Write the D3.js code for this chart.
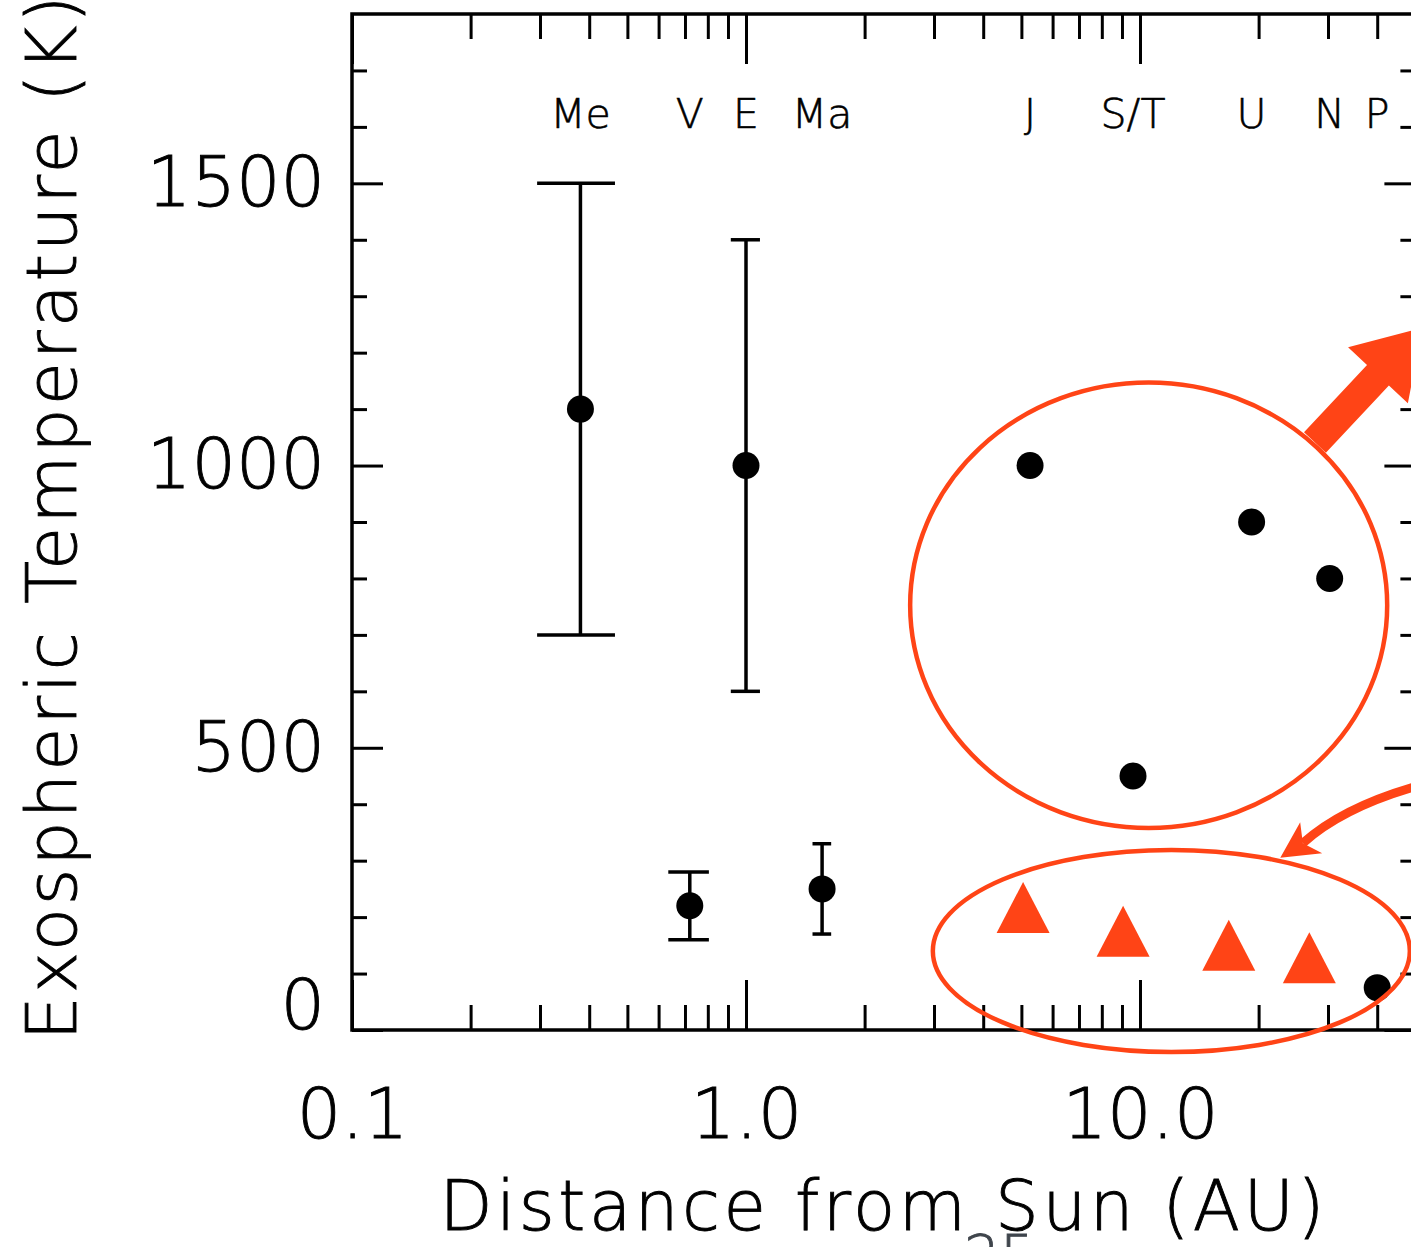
<!DOCTYPE html>
<html lang="en">
<head>
    <meta charset="UTF-8">
    <title>Exospheric Temperature vs Distance from Sun</title>
    <script src="https://cdnjs.cloudflare.com/ajax/libs/d3/7.8.2/d3.min.js"></script>
    <style>
        body {
            margin: 0;
            background: #fff;
        }
        svg {
            display: block;
            font-family: "DejaVu Sans", sans-serif;
            font-weight: 200;
        }
        svg text {
            stroke: currentColor;
            stroke-width: 0.9px;
        }
    </style>
</head>
<body>
    <div id="chart"></div>

    <script>
        // planets (black dots)
        const planetLabels = ["Me", "V", "E", "Ma", "J", "S/T", "U", "N", "P"];
        const distance = [0.38, 0.72, 1.0, 1.56, 5.26, 9.6, 19.2, 30.3, 40.0];
        const exoTemp = [1100, 220, 1000, 250, 1000, 450, 900, 800, 75];
        const tempLow = [700, 160, 600, 170, null, null, null, null, null];
        const tempHigh = [1500, 280, 1400, 330, null, null, null, null, null];

        // red triangles
        const triDistance = [5.05, 9.06, 16.8, 26.9];
        const triTemp = [202, 160, 135, 113];

        // ticks
        const xMajor = [0.1, 1, 10];
        const xTickLabels = ["0.1", "1.0", "10.0"];
        const xMinor = [0.2, 0.3, 0.4, 0.5, 0.6, 0.7, 0.8, 0.9, 2, 3, 4, 5, 6, 7, 8, 9, 20, 30, 40];
        const yMajor = [0, 500, 1000, 1500];
        const yMinor = [100, 200, 300, 400, 600, 700, 800, 900, 1100, 1200, 1300, 1400, 1600, 1700];

        // annotations, in data units
        const ellipseBoxes = [
            { x0: 2.61, x1: 42.4, y0: 358, y1: 1147 },
            { x0: 2.98, x1: 48.4, y0: -39, y1: 319 }
        ];
        const bigArrow = { from: [27.8, 1041], to: [52.1, 1244] };
        const curveArrow = {
            start: [52.9, 436], control: [33.1, 398], notch: [25.9, 331],
            tip: [22.7, 305], barb1: [25.5, 368], barb2: [29.0, 313]
        };

        const width = 1411;
        const height = 1247;
        const red = "#FF4416";

        const svg = d3.select("#chart")
            .append("svg")
            .attr("width", width)
            .attr("height", height)
            .style("color", "#000");

        const x = d3.scaleLog().domain([0.1, 50]).range([352, 352 + 394 * Math.log10(500)]);
        const y = d3.scaleLinear().domain([0, 1800]).range([1030, 14]);

        // axes
        function styleAxis(g, size) {
            g.select(".domain").remove();
            g.selectAll("line").attr("stroke", "#000").attr("stroke-width", 3);
            g.attr("font-family", "DejaVu Sans, sans-serif").attr("font-size", size || 10);
            g.selectAll("text").attr("fill", "#000");
        }

        svg.append("g")
            .attr("transform", `translate(0,${y(0)})`)
            .call(d3.axisBottom(x).tickValues(xMajor).tickSize(-50).tickSizeOuter(0)
                .tickPadding(58).tickFormat((d, i) => xTickLabels[i]))
            .call(styleAxis, 70);
        svg.append("g")
            .attr("transform", `translate(0,${y(0)})`)
            .call(d3.axisBottom(x).tickValues(xMinor).tickSize(-25).tickSizeOuter(0).tickFormat(""))
            .call(styleAxis);
        svg.append("g")
            .attr("transform", `translate(0,${y(1800)})`)
            .call(d3.axisTop(x).tickValues(xMajor).tickSize(-50).tickSizeOuter(0).tickFormat(""))
            .call(styleAxis);
        svg.append("g")
            .attr("transform", `translate(0,${y(1800)})`)
            .call(d3.axisTop(x).tickValues(xMinor).tickSize(-25).tickSizeOuter(0).tickFormat(""))
            .call(styleAxis);

        const yAxisG = svg.append("g")
            .attr("transform", `translate(${x(0.1)},0)`)
            .call(d3.axisLeft(y).tickValues(yMajor).tickSize(-31).tickSizeOuter(0)
                .tickPadding(27).tickFormat(d3.format("d")))
            .call(styleAxis, 70);
        // the zero label sits a bit above its tick
        yAxisG.selectAll(".tick text").filter(d => d === 0).attr("y", -24);

        svg.append("g")
            .attr("transform", `translate(${x(0.1)},0)`)
            .call(d3.axisLeft(y).tickValues(yMinor).tickSize(-15).tickSizeOuter(0).tickFormat(""))
            .call(styleAxis);
        svg.append("g")
            .attr("transform", `translate(${x(50)},0)`)
            .call(d3.axisRight(y).tickValues(yMajor).tickSize(-31).tickSizeOuter(0).tickFormat(""))
            .call(styleAxis);
        svg.append("g")
            .attr("transform", `translate(${x(50)},0)`)
            .call(d3.axisRight(y).tickValues(yMinor).tickSize(-15).tickSizeOuter(0).tickFormat(""))
            .call(styleAxis);

        // frame
        svg.append("rect")
            .attr("x", x(0.1))
            .attr("y", y(1800))
            .attr("width", x(50) - x(0.1))
            .attr("height", y(0) - y(1800))
            .attr("fill", "none")
            .attr("stroke", "#000")
            .attr("stroke-width", 3.5);

        // axis titles
        svg.append("text")
            .attr("x", 882)
            .attr("y", 1230)
            .attr("text-anchor", "middle")
            .attr("font-size", 69)
            .attr("textLength", 885)
            .attr("lengthAdjust", "spacing")
            .text("Distance from Sun (AU)");

        svg.append("text")
            .attr("transform", "translate(76,518) rotate(-90)")
            .attr("text-anchor", "middle")
            .attr("font-size", 70)
            .attr("textLength", 1045)
            .attr("lengthAdjust", "spacing")
            .text("Exospheric Temperature (K)");

        // planet labels along the top
        svg.append("g")
            .selectAll("text")
            .data(planetLabels)
            .enter()
            .append("text")
            .attr("x", (d, i) => x(distance[i]))
            .attr("y", 128)
            .attr("text-anchor", "middle")
            .attr("font-size", 41)
            .style("stroke-width", "0.6px")
            .text(d => d);

        // error bars
        const capHalf = 0.085; // AU, caps are equal width in linear units
        const errIdx = d3.range(distance.length).filter(i => tempLow[i] !== null);
        const err = svg.append("g").attr("stroke", "#000").attr("stroke-width", 3.5);
        err.selectAll("line.v")
            .data(errIdx)
            .enter()
            .append("line")
            .attr("x1", i => x(distance[i]))
            .attr("x2", i => x(distance[i]))
            .attr("y1", i => y(tempLow[i]))
            .attr("y2", i => y(tempHigh[i]));
        [tempLow, tempHigh].forEach(arr => {
            err.selectAll(null)
                .data(errIdx)
                .enter()
                .append("line")
                .attr("x1", i => x(distance[i] - capHalf))
                .attr("x2", i => x(distance[i] + capHalf))
                .attr("y1", i => y(arr[i]))
                .attr("y2", i => y(arr[i]));
        });

        // dots
        svg.append("g")
            .selectAll("circle")
            .data(distance)
            .enter()
            .append("circle")
            .attr("cx", d => x(d))
            .attr("cy", (d, i) => y(exoTemp[i]))
            .attr("r", 13.5)
            .attr("fill", "#000");

        // red triangles (centroid at value)
        const triW = 53, triH = 51;
        svg.append("g")
            .selectAll("path")
            .data(triDistance)
            .enter()
            .append("path")
            .attr("d", (d, i) => {
                const cx = x(d), cy = y(triTemp[i]);
                return `M${cx},${cy - triH * 2 / 3}L${cx + triW / 2},${cy + triH / 3}L${cx - triW / 2},${cy + triH / 3}Z`;
            })
            .attr("fill", red);

        // ellipses
        svg.append("g")
            .selectAll("ellipse")
            .data(ellipseBoxes)
            .enter()
            .append("ellipse")
            .attr("cx", d => (x(d.x0) + x(d.x1)) / 2)
            .attr("cy", d => (y(d.y0) + y(d.y1)) / 2)
            .attr("rx", d => (x(d.x1) - x(d.x0)) / 2)
            .attr("ry", d => (y(d.y0) - y(d.y1)) / 2)
            .attr("fill", "none")
            .attr("stroke", red)
            .attr("stroke-width", 4.5);

        // thick straight arrow
        const p0 = [x(bigArrow.from[0]), y(bigArrow.from[1])];
        const p1 = [x(bigArrow.to[0]), y(bigArrow.to[1])];
        const len = Math.hypot(p1[0] - p0[0], p1[1] - p0[1]);
        const ux = (p1[0] - p0[0]) / len, uy = (p1[1] - p0[1]) / len;
        const nx = -uy, ny = ux;
        const shaftW = 30, headW = 82, headL = 65;
        const hb = [p1[0] - ux * headL, p1[1] - uy * headL];
        const arrowPts = [
            [p0[0] + nx * shaftW / 2, p0[1] + ny * shaftW / 2],
            [hb[0] + nx * shaftW / 2, hb[1] + ny * shaftW / 2],
            [hb[0] + nx * headW / 2, hb[1] + ny * headW / 2],
            p1,
            [hb[0] - nx * headW / 2, hb[1] - ny * headW / 2],
            [hb[0] - nx * shaftW / 2, hb[1] - ny * shaftW / 2],
            [p0[0] - nx * shaftW / 2, p0[1] - ny * shaftW / 2]
        ];
        svg.append("path")
            .attr("d", d3.line()(arrowPts) + "Z")
            .attr("fill", red);

        // curved arrow
        const P = p => [x(p[0]), y(p[1])];
        const cs = P(curveArrow.start), cc = P(curveArrow.control), cn = P(curveArrow.notch);
        svg.append("path")
            .attr("d", `M${cs}Q${cc} ${cn}`)
            .attr("fill", "none")
            .attr("stroke", red)
            .attr("stroke-width", 9);
        svg.append("path")
            .attr("d", d3.line()([P(curveArrow.tip), P(curveArrow.barb1), cn, P(curveArrow.barb2)]) + "Z")
            .attr("fill", red);

        // slide number, cut off at the bottom
        svg.append("text")
            .attr("x", 1000)
            .attr("y", 1274)
            .attr("text-anchor", "middle")
            .attr("font-size", 56)
            .attr("fill", "#3f454c")
            .style("color", "#3f454c")
            .text("25");
    </script>
</body>
</html>
